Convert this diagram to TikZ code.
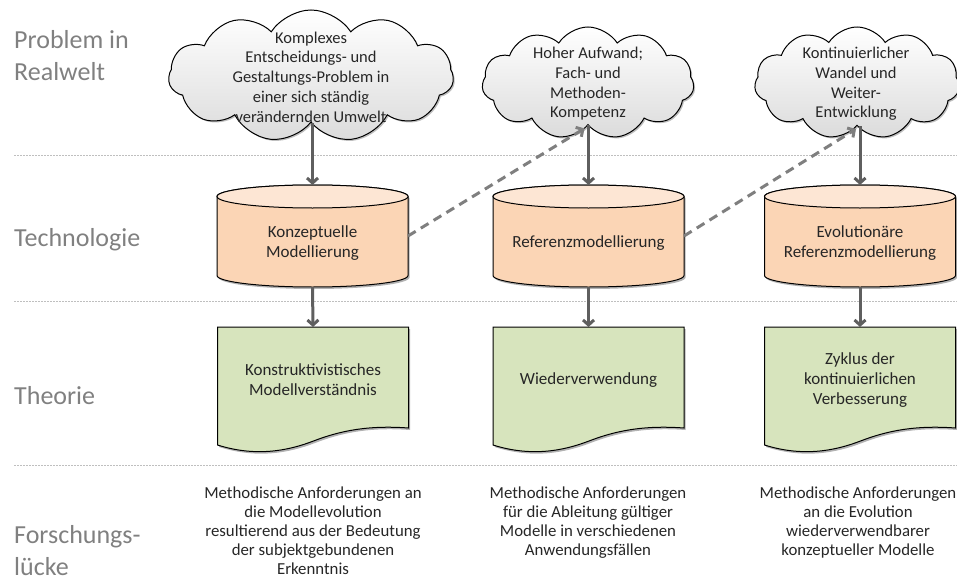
\documentclass[tikz,border=0pt]{standalone}
\usepackage{fontspec}
\setmainfont{Carlito}
\usetikzlibrary{shapes.symbols,arrows.meta,shadows,calc}
\definecolor{cylfill}{HTML}{FBD5B5}
\definecolor{cyltop}{HTML}{FDE6D4}
\definecolor{docfill}{HTML}{D7E4BD}
\definecolor{arrgray}{HTML}{5F5F5F}
\definecolor{dashgray}{HTML}{7F7F7F}
\definecolor{labgray}{HTML}{808080}
\definecolor{dotgray}{HTML}{BFBFBF}
\tikzset{
  cloudbox/.style={cloud, cloud puffs=11, cloud puff arc=115, aspect=2, draw=black, line width=1pt,
    top color=white, bottom color=black!14, inner sep=0pt,
    drop shadow={shadow xshift=1.5pt, shadow yshift=-1.5pt, opacity=0.25, fill=black}},
  cloudtext/.style={align=center, font=\fontsize{16.5}{19.7}\selectfont, text=black!85},
  boxtext/.style={align=center, font=\fontsize{17}{20}\selectfont, text=black!85},
  bottomtext/.style={align=center, font=\fontsize{16.8}{19}\selectfont, text=black!85, anchor=north},
  lab/.style={align=left, anchor=west, font=\fontsize{26}{32}\selectfont, text=labgray, inner sep=0pt},
  frame/.style={minimum width=191pt, inner sep=0pt, outer sep=0pt},
  arr/.style={draw=arrgray, line width=3pt, -{Straight Barb[length=5pt,width=11pt]}},
  darr/.style={draw=dashgray, line width=3pt, dash pattern=on 9pt off 6pt, -{Straight Barb[length=5pt,width=11pt]}},
  dotline/.style={draw=dotgray, line width=0.9pt, dash pattern=on 1.5pt off 1.5pt},
  shade/.style={drop shadow={shadow xshift=1.5pt, shadow yshift=-2pt, opacity=0.3, fill=black}},
}
\begin{document}
\begin{tikzpicture}[x=1pt,y=1pt]
\useasboundingbox (0,0) rectangle (957,-583);
% separators
\draw[dotline] (14,-155) -- (957,-155);
\draw[dotline] (14,-301) -- (957,-301);
\draw[dotline] (14,-465) -- (957,-465);
% row labels
\node[lab] (l1) at (14,-56) {Problem in\\Realwelt};
\node[lab] (l2) at (14,-240) {Technologie};
\node[lab] (l3) at (14,-396) {Theorie};
\node[lab] (l4) at (14,-551) {Forschungs-\\lücke};
% frames
\node[frame, minimum height=102pt] (cy1) at (312.5,-236) {};
\node[frame, minimum height=102pt] (cy2) at (588.5,-236) {};
\node[frame, minimum height=102pt] (cy3) at (860,-236) {};
\node[frame, minimum height=128pt] (d1) at (313,-391) {};
\node[frame, minimum height=128pt] (d2) at (588.5,-391) {};
\node[frame, minimum height=128pt] (d3) at (860,-391) {};
% clouds
\node[cloudbox, minimum width=285pt, minimum height=132pt] (cl1) at (311,-76) {};
\node[cloudbox, minimum width=212pt, minimum height=112pt] (cl2) at (588,-83) {};
\node[cloudbox, minimum width=205pt, minimum height=112pt] (cl3) at (857,-83) {};
\node[cloudtext] (t1) at (311,-77) {Komplexes\\Entscheidungs- und\\Gestaltungs-Problem in\\einer sich ständig\\verändernden Umwelt};
\node[cloudtext] (t2) at (588,-84) {Hoher Aufwand;\\Fach- und\\Methoden-\\Kompetenz};
\node[cloudtext] (t3) at (856,-84) {Kontinuierlicher\\Wandel und\\Weiter-\\Entwicklung};
% cylinders
\foreach \n in {cy1,cy2,cy3}{
  \path[draw=black, line width=1pt, fill=cylfill, shade]
    ($(\n.north west)+(0,-11.5)$) -- ($(\n.south west)+(0,11.5)$)
    arc[start angle=180, end angle=360, x radius=95.5, y radius=11.5]
    -- ($(\n.north east)+(0,-11.5)$)
    arc[start angle=0, end angle=180, x radius=95.5, y radius=11.5] -- cycle;
  \draw[line width=1pt, fill=cyltop] ($(\n.north)+(0,-11.5)$) ellipse[x radius=95.5, y radius=11.5];
}
% documents
\foreach \n in {d1,d2,d3}{
  \begin{scope}[shift={(\n.north west)}]
    \path[draw=black, line width=1pt, fill=docfill, shade]
      (0,0) -- (191,0) -- (191,-101)
      .. controls (150,-98) and (122,-104) .. (96,-114)
      .. controls (70,-124) and (38,-130) .. (0,-118) -- cycle;
  \end{scope}
}
\node[boxtext] (ct1) at ($(cy1)+(0,-7)$) {Konzeptuelle\\Modellierung};
\node[boxtext] (ct2) at ($(cy2)+(0,-7)$) {Referenzmodellierung};
\node[boxtext] (ct3) at ($(cy3)+(0,-7)$) {Evolutionäre\\Referenzmodellierung};
\node[boxtext] (dt1) at ($(d1)+(0,11)$) {Konstruktivistisches\\Modellverständnis};
\node[boxtext] (dt2) at ($(d2)+(0,11)$) {Wiederverwendung};
\node[boxtext] (dt3) at ($(d3)+(0,11)$) {Zyklus der\\kontinuierlichen\\Verbesserung};
% connectors
\draw[arr] (cy1.north |- cl1.south) -- (cy1.north);
\draw[arr] (cy2.north |- cl2.south) -- (cy2.north);
\draw[arr] (cy3.north |- cl3.south) -- (cy3.north);
\draw[arr] (cy1.south) -- (d1.north);
\draw[arr] (cy2.south) -- (d2.north);
\draw[arr] (cy3.south) -- (d3.north);
\coordinate (h2) at ($(cy2.north |- cl2.south)+(-4,-3)$);
\coordinate (h3) at ($(cy3.north |- cl3.south)+(-4,-3)$);
\draw[darr] (cy1.east) -- (h2);
\draw[darr] (cy2.east) -- (h3);
% bottom texts
\node[bottomtext] (b1) at (313,-483) {Methodische Anforderungen an\\die Modellevolution\\resultierend aus der Bedeutung\\der subjektgebundenen\\Erkenntnis};
\node[bottomtext] (b2) at (588,-483) {Methodische Anforderungen\\für die Ableitung gültiger\\Modelle in verschiedenen\\Anwendungsfällen};
\node[bottomtext] (b3) at (858,-483) {Methodische Anforderungen\\an die Evolution\\wiederverwendbarer\\konzeptueller Modelle};
\end{tikzpicture}
\end{document}
